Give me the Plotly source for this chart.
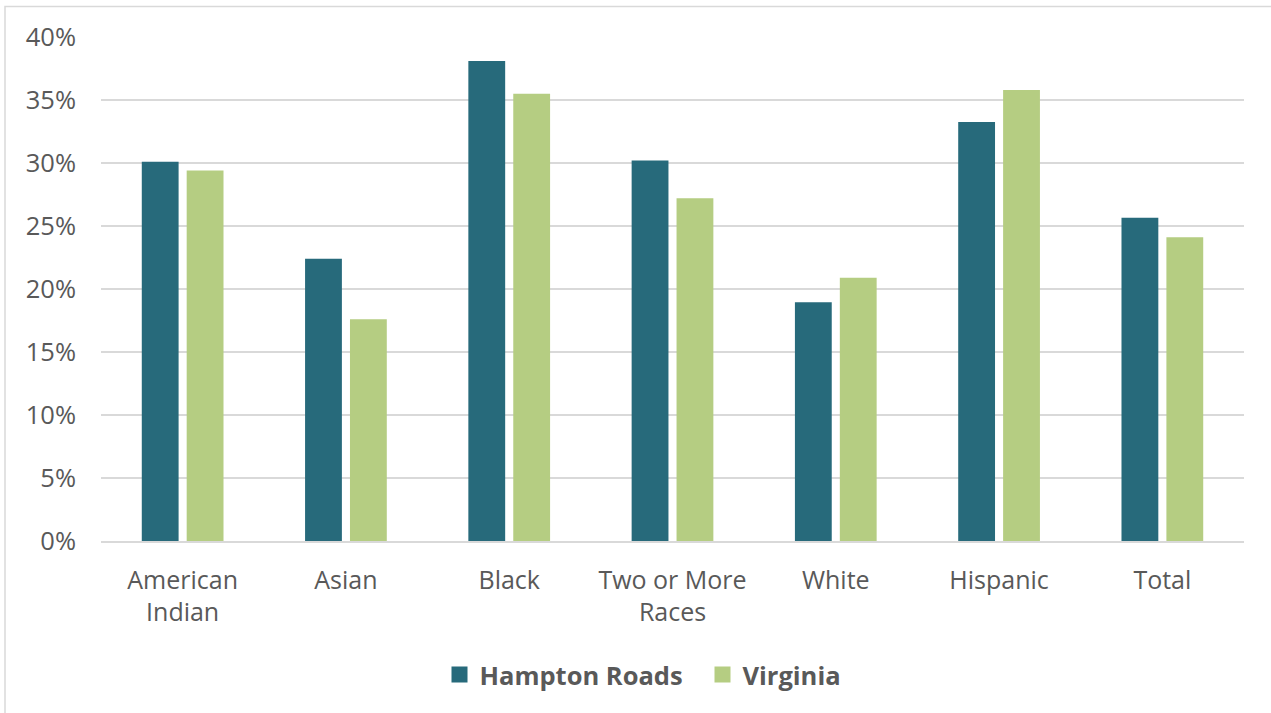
import plotly.graph_objects as go

categories = ["American<br>Indian", "Asian", "Black", "Two or More<br>Races", "White", "Hispanic", "Total"]
hampton_roads = [30.1, 22.4, 38.1, 30.2, 18.95, 33.25, 25.65]
virginia = [29.4, 17.6, 35.5, 27.2, 20.9, 35.8, 24.1]
y_ticks = [0, 5, 10, 15, 20, 25, 30, 35, 40]
y_tick_labels = [f"{v}%" for v in y_ticks]

HR_COLOR = "#276A7B"
VA_COLOR = "#B5CD82"
TEXT = "#595959"
GRID = "#D9D9D9"
FONT = "Open Sans"

fig = go.Figure()
fig.add_trace(go.Bar(name="Hampton Roads", x=categories, y=hampton_roads,
                     marker=dict(color=HR_COLOR, line=dict(width=0)), showlegend=False))
fig.add_trace(go.Bar(name="Virginia", x=categories, y=virginia,
                     marker=dict(color=VA_COLOR, line=dict(width=0)), showlegend=False))
# legend entries with larger square swatches
fig.add_trace(go.Scatter(name="Hampton Roads", x=[None], y=[None], mode="markers",
                         marker=dict(symbol="square", size=17, color=HR_COLOR)))
fig.add_trace(go.Scatter(name="Virginia", x=[None], y=[None], mode="markers",
                         marker=dict(symbol="square", size=17, color=VA_COLOR)))

W, H = 1271, 713
L, R, T, B = 101, 27, 37, 172
pw, ph = W - L - R, H - T - B

fig.update_layout(
    width=W, height=H,
    margin=dict(l=L, r=R, t=T, b=B),
    paper_bgcolor="white", plot_bgcolor="white",
    barmode="group", bargap=0.45, bargroupgap=0.18,
    font=dict(family=FONT, color=TEXT, size=25),
    legend=dict(orientation="h", x=0.5 + 30 / pw, xanchor="center",
                y=(541 - 675) / ph, yanchor="middle",
                font=dict(family=FONT, size=25.5, color=TEXT, weight="bold"),
                entrywidth=218,
                itemclick=False, bgcolor="rgba(0,0,0,0)"),
    xaxis=dict(showgrid=False, showline=True, linecolor=GRID, linewidth=1.5,
               ticks="", tickfont=dict(size=25, color=TEXT), ticklabelstandoff=16,
               fixedrange=True),
    yaxis=dict(range=[0, 40], tickvals=y_ticks, ticktext=y_tick_labels,
               showgrid=True, gridcolor=GRID, gridwidth=1.5,
               zeroline=False, showline=False, ticks="",
               tickfont=dict(size=25.5, color=TEXT), ticklabelstandoff=24,
               fixedrange=True),
    shapes=[dict(type="rect", xref="paper", yref="paper",
                 x0=(5 - L) / pw, x1=(W + 20 - L) / pw,
                 y0=(541 - (H + 20)) / ph, y1=(541 - 6.5) / ph,
                 line=dict(color=GRID, width=1.5), fillcolor="rgba(0,0,0,0)", layer="below")],
)

fig.write_html("out.html",
               config={"displayModeBar": False, "staticPlot": True},
               post_script="document.body.style.margin='0px';document.body.style.overflow='hidden';")
